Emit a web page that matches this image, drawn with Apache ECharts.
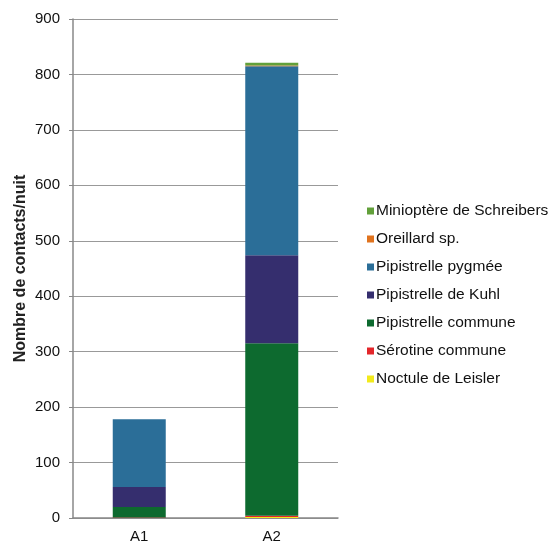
<!DOCTYPE html>
<html>
<head>
<meta charset="utf-8">
<script src="https://cdn.jsdelivr.net/npm/echarts@6/dist/echarts.min.js"></script>
<style>html,body{margin:0;padding:0;background:#fff}#c{width:551px;height:544px}</style>
</head>
<body>
<div id="c"></div>
<script>
var categories = ['A1', 'A2'];
var noctule = [0, 2];
var serotine = [1, 2];
var pipCommune = [19, 311];
var pipKuhl = [36, 159];
var pipPygmee = [122, 341];
var oreillard = [0, 1];
var minioptere = [0, 5];
var yTicks = [0, 100, 200, 300, 400, 500, 600, 700, 800, 900];

var seriesDefs = [
  ['Noctule de Leisler', noctule, '#f2ea1c'],
  ['Sérotine commune', serotine, '#e3262a'],
  ['Pipistrelle commune', pipCommune, '#0d6a2f'],
  ['Pipistrelle de Kuhl', pipKuhl, '#352e6e'],
  ['Pipistrelle pygmée', pipPygmee, '#2b6e98'],
  ['Oreillard sp.', oreillard, '#e0731e'],
  ['Miniopt\u00e8re de Schreibers', minioptere, '#62a03a']
];

var chart = echarts.init(document.getElementById('c'), null, {renderer: 'canvas'});
var font = 'Liberation Sans, Arial, sans-serif';
chart.setOption({
  animation: false,
  textStyle: {fontFamily: font},
  grid: {left: 73, right: 213, top: 19, bottom: 25, containLabel: false},
  legend: {
    orient: 'vertical',
    left: 362,
    top: 198,
    itemWidth: 7,
    itemHeight: 7,
    itemGap: 12,
    icon: 'rect',
    textStyle: {fontFamily: font, fontSize: 15.5, color: '#111', padding: [0, 0, 0, -3]},
    data: seriesDefs.slice().reverse().map(function (d) { return d[0]; })
  },
  xAxis: {
    type: 'category',
    data: categories,
    axisLine: {lineStyle: {color: '#888', width: 1.5}},
    axisTick: {show: false},
    axisLabel: {fontSize: 15, color: '#111', margin: 11, fontFamily: font}
  },
  yAxis: {
    type: 'value',
    min: yTicks[0],
    max: yTicks[yTicks.length - 1],
    interval: 100,
    name: 'Nombre de contacts/nuit',
    nameLocation: 'middle',
    nameGap: 44,
    nameTextStyle: {fontSize: 16, fontWeight: 'bold', color: '#222', fontFamily: font},
    axisLine: {show: true, lineStyle: {color: '#888', width: 1.5}},
    axisTick: {show: true, length: 4, lineStyle: {color: '#888'}},
    axisLabel: {fontSize: 15, color: '#111', margin: 13, fontFamily: font},
    splitLine: {lineStyle: {color: '#999', width: 1}}
  },
  series: seriesDefs.map(function (d) {
    return {
      name: d[0],
      type: 'bar',
      stack: 'total',
      data: d[1],
      barWidth: '40%',
      itemStyle: {color: d[2]}
    };
  })
});
</script>
</body>
</html>
